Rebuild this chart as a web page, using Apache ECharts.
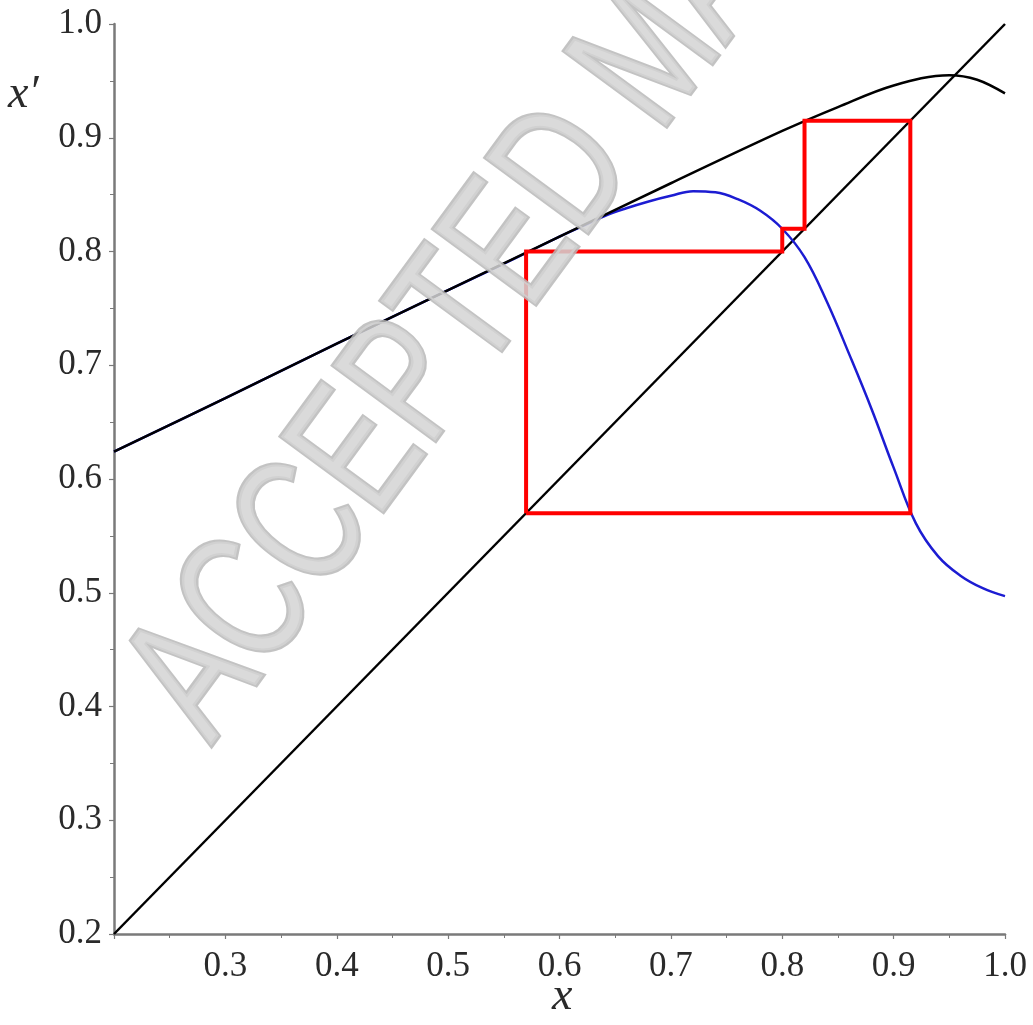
<!DOCTYPE html>
<html>
<head>
<meta charset="utf-8">
<style>
  html, body { margin: 0; padding: 0; background: #ffffff; }
  #chart { width: 1033px; height: 1025px; }
</style>
<script src="https://cdn.jsdelivr.net/npm/echarts@6/dist/echarts.min.js"></script>
</head>
<body>
<div id="chart"></div>
<script>
// Identity line x' = x
const diagX = [0.2, 1.0];
const diagY = [0.2, 1.0];

// Upper map (black)
const blackX = [0.2, 0.3, 0.4, 0.5, 0.6, 0.7, 0.8, 0.85, 0.9, 0.95, 0.975, 1.0];
const blackY = [0.624, 0.671, 0.719, 0.766, 0.813, 0.860, 0.906, 0.927, 0.946, 0.955, 0.951, 0.939];

// Lower map (blue)
const blueX = [0.2, 0.3, 0.4, 0.5, 0.56, 0.6, 0.62, 0.64, 0.66, 0.68, 0.7, 0.72, 0.74, 0.76, 0.78, 0.8,
               0.82, 0.84, 0.86, 0.88, 0.9, 0.92, 0.94, 0.96, 0.98, 1.0];
const blueY = [0.624, 0.671, 0.719, 0.766, 0.794, 0.813, 0.822, 0.831, 0.838, 0.844, 0.849, 0.853, 0.852, 0.846, 0.836, 0.820,
               0.795, 0.756, 0.710, 0.662, 0.610, 0.561, 0.532, 0.515, 0.504, 0.497];

// Cobweb orbit (red)
const cobX = [0.570, 0.570, 0.800, 0.800, 0.820, 0.820, 0.915, 0.915, 0.570];
const cobY = [0.570, 0.800, 0.800, 0.820, 0.820, 0.915, 0.915, 0.570, 0.570];

// Tick labels
const xTickLabels = ['', '0.3', '0.4', '0.5', '0.6', '0.7', '0.8', '0.9', '1.0'];
const yTickLabels = ['0.2', '0.3', '0.4', '0.5', '0.6', '0.7', '0.8', '0.9', '1.0'];

const pairs = (xs, ys) => xs.map((x, i) => [x, ys[i]]);
const tickIndex = v => Math.round((v - 0.2) / 0.1);

const serif = '"Liberation Serif", "DejaVu Serif", serif';
const axisGrey = '#7a7a7a';

const chart = echarts.init(document.getElementById('chart'), null, { renderer: 'canvas' });

const axisCommon = {
  type: 'value',
  min: 0.2,
  max: 1.0,
  interval: 0.1,
  splitLine: { show: false },
  axisLine: { show: true, onZero: false, lineStyle: { color: axisGrey, width: 2.5 } },
  axisTick: { show: true, inside: false, length: 5, lineStyle: { color: axisGrey, width: 1.2 } },
  minorTick: { show: true, splitNumber: 2, length: 4, lineStyle: { color: axisGrey, width: 1 } },
  minorSplitLine: { show: false }
};

chart.setOption({
  backgroundColor: '#ffffff',
  animation: false,
  grid: { left: 114, right: 28, top: 24, bottom: 91, containLabel: false },
  xAxis: Object.assign({}, axisCommon, {
    axisLabel: {
      margin: 15,
      fontFamily: serif,
      fontSize: 35,
      color: '#2a2a2a',
      formatter: v => xTickLabels[tickIndex(v)] || ''
    }
  }),
  yAxis: Object.assign({}, axisCommon, {
    axisLabel: {
      margin: 12,
      fontFamily: serif,
      fontSize: 35,
      color: '#2a2a2a',
      formatter: v => yTickLabels[tickIndex(v)] || ''
    }
  }),
  series: [
    {
      type: 'line', name: 'diagonal', data: pairs(diagX, diagY),
      showSymbol: false, symbol: 'none', z: 2,
      lineStyle: { color: '#000000', width: 2.5 }
    },
    {
      type: 'line', name: 'lower', data: pairs(blueX, blueY),
      showSymbol: false, symbol: 'none', smooth: 0.4, z: 3,
      lineStyle: { color: '#1c1cd2', width: 2.5 }
    },
    {
      type: 'line', name: 'upper', data: pairs(blackX, blackY),
      showSymbol: false, symbol: 'none', smooth: 0.35, z: 4,
      lineStyle: { color: '#000000', width: 2.5 }
    },
    {
      type: 'line', name: 'orbit', data: pairs(cobX, cobY),
      showSymbol: false, symbol: 'none', z: 5,
      lineStyle: { color: '#ff0000', width: 4, join: 'miter' }
    }
  ],
  graphic: [
    {
      type: 'text', left: 552, top: 974, z: 50,
      style: { text: 'x', font: 'italic 46px ' + serif, fill: '#2a2a2a' }
    },
    {
      type: 'text', left: 8, top: 72, z: 50,
      style: { text: 'x\u2032', font: 'italic 46px ' + serif, fill: '#2a2a2a' }
    },
    {
      type: 'text',
      x: 170, y: 716,
      rotation: 53.7 * Math.PI / 180,
      scaleX: 0.72, scaleY: 1,
      z: 100,
      silent: true,
      style: {
        text: 'ACCEPTED MANUSCRIPT',
        font: '184px "Liberation Sans", Arial, sans-serif',
        fill: 'rgba(212,212,212,0.85)',
        stroke: 'rgba(185,185,185,0.85)',
        lineWidth: 5,
        textAlign: 'left',
        textVerticalAlign: 'middle',
        shadowBlur: 3,
        shadowColor: 'rgba(0,0,0,0.25)',
        shadowOffsetX: 2,
        shadowOffsetY: 2
      }
    }
  ]
});
</script>
</body>
</html>
